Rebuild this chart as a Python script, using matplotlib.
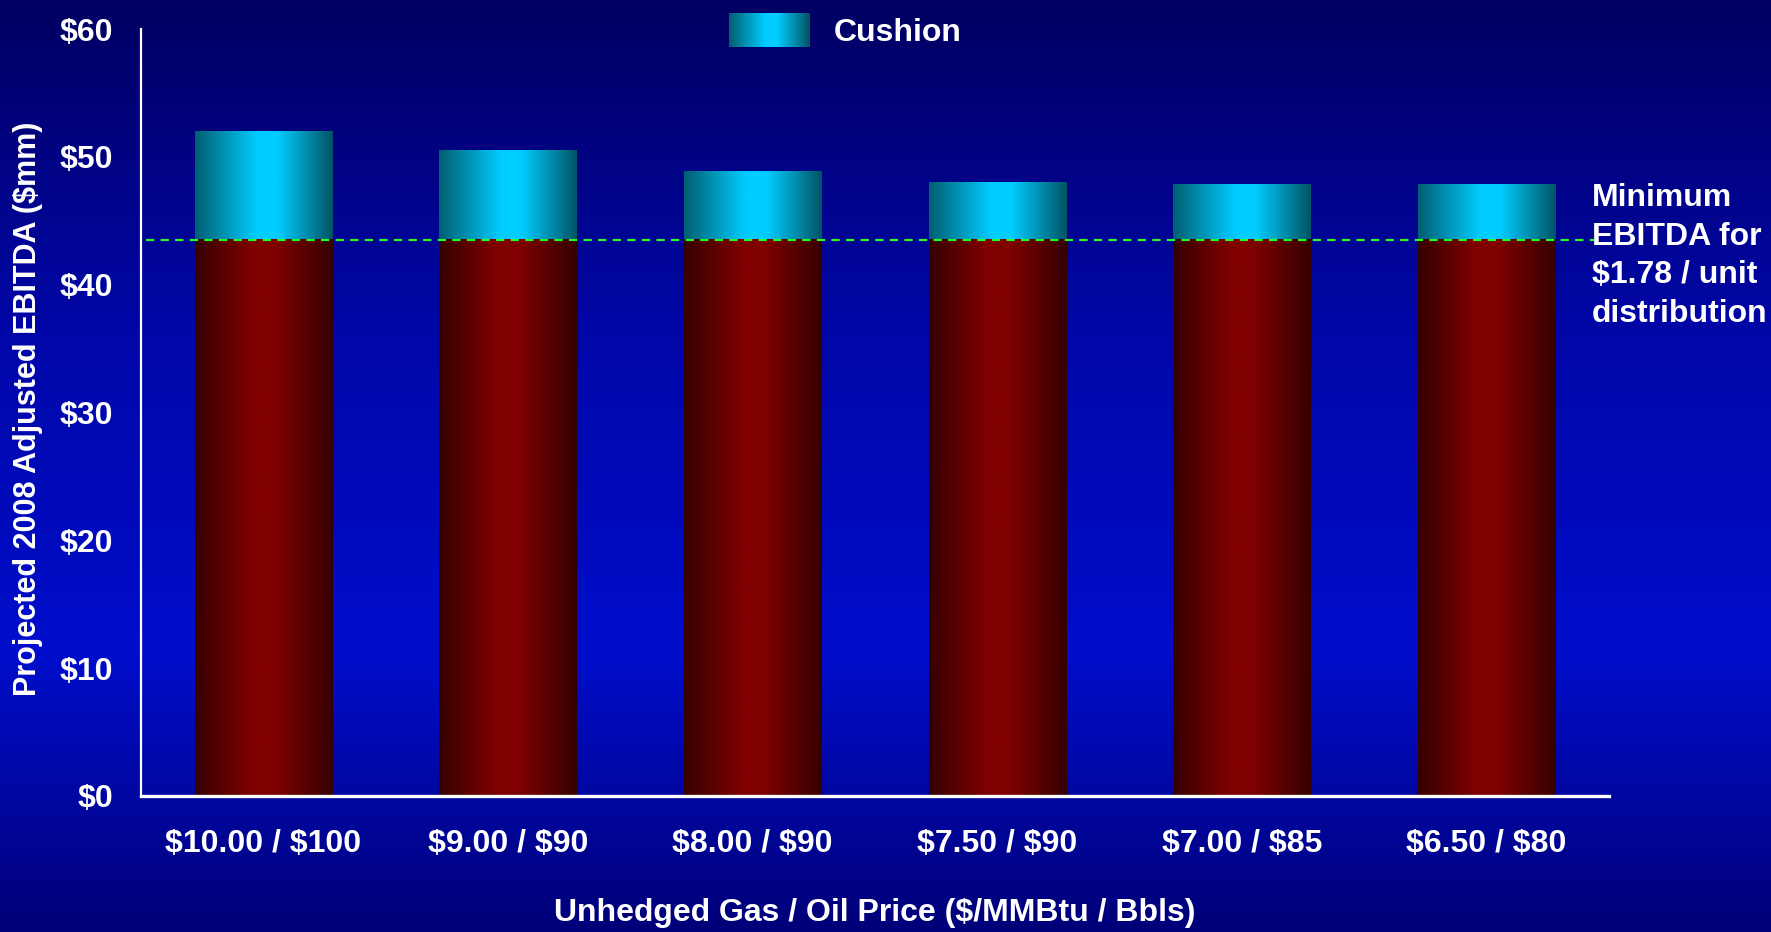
import numpy as np
import matplotlib
matplotlib.use("Agg")
import matplotlib.pyplot as plt
from matplotlib.colors import LinearSegmentedColormap
from matplotlib.legend_handler import HandlerBase
from matplotlib.patches import Rectangle

plt.rcParams['font.family'] = ['Liberation Sans', 'DejaVu Sans']
plt.rcParams['font.weight'] = 'bold'
plt.rcParams['text.parse_math'] = False

# data
price_labels = ['$10.00 / $100', '$9.00 / $90', '$8.00 / $90',
                '$7.50 / $90', '$7.00 / $85', '$6.50 / $80']
total_ebitda = [52.0, 50.5, 48.9, 48.0, 47.9, 47.9]
base_ebitda = [43.6, 43.6, 43.6, 43.6, 43.6, 43.6]
min_ebitda = 43.5
yticks = [0, 10, 20, 30, 40, 50, 60]

cushion = [t - b for t, b in zip(total_ebitda, base_ebitda)]

red_cmap = LinearSegmentedColormap.from_list(
    'red', [(0, '#360000'), (0.42, '#800000'), (0.58, '#800000'), (1, '#360000')])
cyan_cmap = LinearSegmentedColormap.from_list(
    'cyan', [(0, '#005f72'), (0.45, '#00ccff'), (0.6, '#00ccff'), (1, '#005566')])
bg_cmap = LinearSegmentedColormap.from_list(
    'bg', [(0, '#020062'), (0.35, '#0006a6'), (0.7, '#000ecc'), (1, '#000078')])

fig = plt.figure(figsize=(17.71, 9.32), dpi=100)

# background gradient
bg = fig.add_axes([0, 0, 1, 1], zorder=-10)
bg.imshow(np.linspace(0, 1, 256).reshape(-1, 1), cmap=bg_cmap, aspect='auto',
          extent=(0, 1, 0, 1), origin='upper')
bg.axis('off')

ax = fig.add_axes([141 / 1771, 1 - 796 / 932, (1609 - 141) / 1771, (796 - 29) / 932])
ax.patch.set_alpha(0)

x = np.arange(len(price_labels))
width = 0.56
grad = np.linspace(0, 1, 200).reshape(1, -1)

red_bars = ax.bar(x, base_ebitda, width, color='none', edgecolor='none')
cyan_bars = ax.bar(x, cushion, width, bottom=base_ebitda, color='none',
                   edgecolor='none', label='Cushion')

for bars, cmap in [(red_bars, red_cmap), (cyan_bars, cyan_cmap)]:
    for b in bars:
        x0, y0 = b.get_x(), b.get_y()
        im = ax.imshow(grad, cmap=cmap, aspect='auto',
                       extent=(x0, x0 + b.get_width(), y0, y0 + b.get_height()),
                       zorder=2)
        im.set_clip_path(b)

ax.plot([-0.48, 5.44], [min_ebitda, min_ebitda], color='#22ff22', lw=1.5,
        ls=(0, (4, 3)), zorder=3)

ax.set_xlim(-0.5, 5.5)
ax.set_ylim(0, 60)
ax.set_xticks(x)
ax.set_xticklabels(price_labels)
ax.set_yticks(yticks)
ax.set_yticklabels([f'${v}' for v in yticks])
ax.tick_params(axis='both', length=0, colors='white', labelsize=23)
ax.tick_params(axis='y', pad=20)
ax.tick_params(axis='x', pad=24)

for s in ['top', 'right']:
    ax.spines[s].set_visible(False)
ax.spines['left'].set_color('white')
ax.spines['left'].set_linewidth(1.6)
ax.spines['bottom'].set_color('white')
ax.spines['bottom'].set_linewidth(2.4)


class HandlerGradient(HandlerBase):
    def create_artists(self, legend, orig_handle, xdescent, ydescent,
                       width, height, fontsize, trans):
        n = 60
        arts = []
        for i in range(n):
            r = Rectangle((-xdescent + width * i / n, -ydescent), width / n * 1.05,
                          height, facecolor=cyan_cmap(i / (n - 1)),
                          edgecolor='none', transform=trans)
            arts.append(r)
        return arts


fig.legend([cyan_bars], ['Cushion'], handler_map={type(cyan_bars): HandlerGradient()},
           loc='upper left', bbox_to_anchor=(713 / 1771, 1 + 3 / 932), frameon=False,
           fontsize=23, handlelength=2.53, handleheight=1.24, handletextpad=0.75,
           borderpad=0, labelcolor='white')

fig.text(1592 / 1771, 1 - 183 / 932, 'Minimum\nEBITDA for\n$1.78 / unit\ndistribution',
         color='white', fontsize=23, ha='left', va='top', linespacing=1.37)

fig.text(28 / 1771, 1 - 409 / 932, 'Projected 2008 Adjusted EBITDA ($mm)',
         color='white', fontsize=22, rotation=90, ha='center', va='center')
fig.text(875 / 1771, 1 - 913 / 932, 'Unhedged Gas / Oil Price ($/MMBtu / Bbls)',
         color='white', fontsize=23, ha='center', va='center')

fig.savefig('out.png', dpi=100)
